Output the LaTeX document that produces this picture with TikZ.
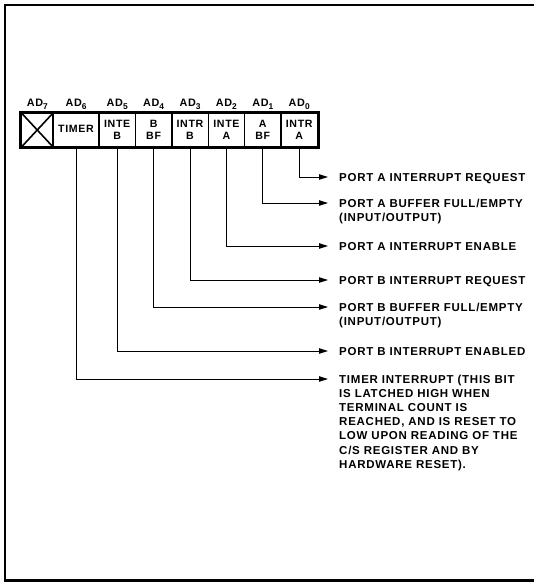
\documentclass[tikz,border=0pt]{standalone}
\usepackage{fontspec}
\usetikzlibrary{arrows.meta}
\newfontfamily\lblfont{Liberation Sans}[LetterSpace=6.5]
\newcommand\adsub[1]{\raisebox{-2.4bp}{\fontsize{8.4bp}{9bp}\selectfont #1}}
\begin{document}
\begin{tikzpicture}[x=1bp,y=-1bp,
  cell/.style={draw, line width=1.4bp, inner sep=0pt, minimum height=34bp, minimum width=36.4bp,
    font=\lblfont\bfseries\fontsize{10.6bp}{12.7bp}\selectfont, align=center},
  hdr/.style={anchor=base, inner sep=0pt, font=\lblfont\bfseries\fontsize{10.8bp}{12bp}\selectfont},
  desc/.style={anchor=base west, inner sep=0pt, font=\lblfont\bfseries\fontsize{11.5bp}{14.2bp}\selectfont},
  conn/.style={line width=1bp, -{Triangle[length=9bp,width=5.4bp]}},
  frame/.style={line width=2.6bp, line join=miter}]
\useasboundingbox (0,0) rectangle (534,582);
% frame (open on the right)
\draw[frame] (534,5) -- (5,5) -- (5,580.5) -- (534,580.5);
% register cells
\node[cell, minimum width=31.5bp] (c7) at (37.25,130) {};
\node[cell, minimum width=46bp] (c6) at (76,130) {\raisebox{2.6bp}{TIMER}};
\node[cell] (c5) at (117.2,130) {INTE\\B};
\node[cell] (c4) at (153.6,130) {B\\BF};
\node[cell] (c3) at (190.0,130) {INTR\\B};
\node[cell] (c2) at (226.4,130) {INTE\\A};
\node[cell] (c1) at (262.8,130) {A\\BF};
\node[cell] (c0) at (299.2,130) {INTR\\A};
\draw[line width=1.6bp] (c7.north west) -- (c7.south east) (c7.south west) -- (c7.north east);
\draw[line width=3bp] (c7.north west) rectangle (c0.south east);
% bit headers
\node[hdr] (h7) at (37.25,107) {AD\adsub{7}};
\node[hdr] (h6) at (76,107) {AD\adsub{6}};
\node[hdr] (h5) at (117.2,107) {AD\adsub{5}};
\node[hdr] (h4) at (153.6,107) {AD\adsub{4}};
\node[hdr] (h3) at (190.0,107) {AD\adsub{3}};
\node[hdr] (h2) at (226.4,107) {AD\adsub{2}};
\node[hdr] (h1) at (262.8,107) {AD\adsub{1}};
\node[hdr] (h0) at (299.2,107) {AD\adsub{0}};
% arrow end points
\coordinate (e0) at (328,177);
\coordinate (e1) at (328,203);
\coordinate (e2) at (328,246);
\coordinate (e3) at (328,280);
\coordinate (e4) at (328,307);
\coordinate (e5) at (328,351);
\coordinate (e6) at (328,379);
% connectors
\draw[conn] (c0.south) |- (e0);
\draw[conn] (c1.south) |- (e1);
\draw[conn] (c2.south) |- (e2);
\draw[conn] (c3.south) |- (e3);
\draw[conn] (c4.south) |- (e4);
\draw[conn] (c5.south) |- (e5);
\draw[conn] (c6.south) |- (e6);
% descriptions
\node[desc] (t0) at ([xshift=11bp,yshift=-4.1bp]e0) {PORT A INTERRUPT REQUEST};
\node[desc] (t1) at ([xshift=11bp,yshift=-4.1bp]e1) {\begin{tabular}[t]{@{}l@{}}PORT A BUFFER FULL/EMPTY\\(INPUT/OUTPUT)\end{tabular}};
\node[desc] (t2) at ([xshift=11bp,yshift=-4.1bp]e2) {PORT A INTERRUPT ENABLE};
\node[desc] (t3) at ([xshift=11bp,yshift=-4.1bp]e3) {PORT B INTERRUPT REQUEST};
\node[desc] (t4) at ([xshift=11bp,yshift=-4.1bp]e4) {\begin{tabular}[t]{@{}l@{}}PORT B BUFFER FULL/EMPTY\\(INPUT/OUTPUT)\end{tabular}};
\node[desc] (t5) at ([xshift=11bp,yshift=-4.1bp]e5) {PORT B INTERRUPT ENABLED};
\node[desc] (t6) at ([xshift=11bp,yshift=-4.1bp]e6) {\begin{tabular}[t]{@{}l@{}}TIMER INTERRUPT (THIS BIT\\IS LATCHED HIGH WHEN\\TERMINAL COUNT IS\\REACHED, AND IS RESET TO\\LOW UPON READING OF THE\\C/S REGISTER AND BY\\HARDWARE RESET).\end{tabular}};
\end{tikzpicture}
\end{document}
